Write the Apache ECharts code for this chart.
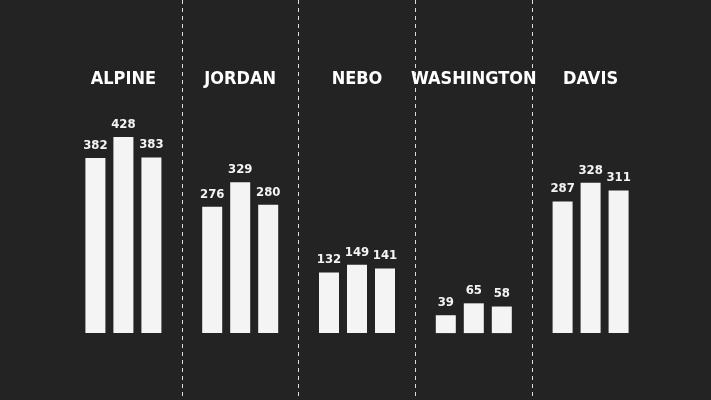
<!DOCTYPE html>
<html><head><meta charset="utf-8">
<script src="https://cdn.jsdelivr.net/npm/echarts@6/dist/echarts.min.js"></script>
<style>html,body{margin:0;padding:0;background:#232323}#c{width:711px;height:400px}</style>
</head><body><div id="c"></div>
<script>
const districts = ['ALPINE', 'JORDAN', 'NEBO', 'WASHINGTON', 'DAVIS'];
const first = [382, 276, 132, 39, 287];
const second = [428, 329, 149, 65, 328];
const third = [383, 280, 141, 58, 311];

const font = "'DejaVu Sans Condensed', 'Liberation Sans Narrow', sans-serif";
function bar(vals) {
    return {
        type: 'bar', data: vals, barWidth: 20,
        itemStyle: {color: '#f4f4f4'},
        label: {show: true, position: 'top', distance: 6, color: '#f4f4f4',
            fontFamily: font, fontWeight: 'bold', fontSize: 13}
    };
}
let chart = echarts.init(document.getElementById('c'));
chart.setOption({
    backgroundColor: '#232323',
    grid: {left: 65, right: 62, top: 0, bottom: 0},
    xAxis: {
        type: 'category', data: districts, position: 'top',
        axisLine: {show: false}, axisTick: {show: false},
        axisLabel: {interval: 0, inside: true, margin: 70, color: '#fff', fontFamily: font,
            fontWeight: 'bold', fontSize: 18},
        splitLine: {show: true, showMinLine: false, showMaxLine: false,
            lineStyle: {color: '#ddd', type: [4, 4], width: 1}}
    },
    yAxis: {type: 'value', min: -146, max: 727, show: false},
    series: [bar(first), bar(second), bar(third)],
    barGap: '40%'
});
</script></body></html>
